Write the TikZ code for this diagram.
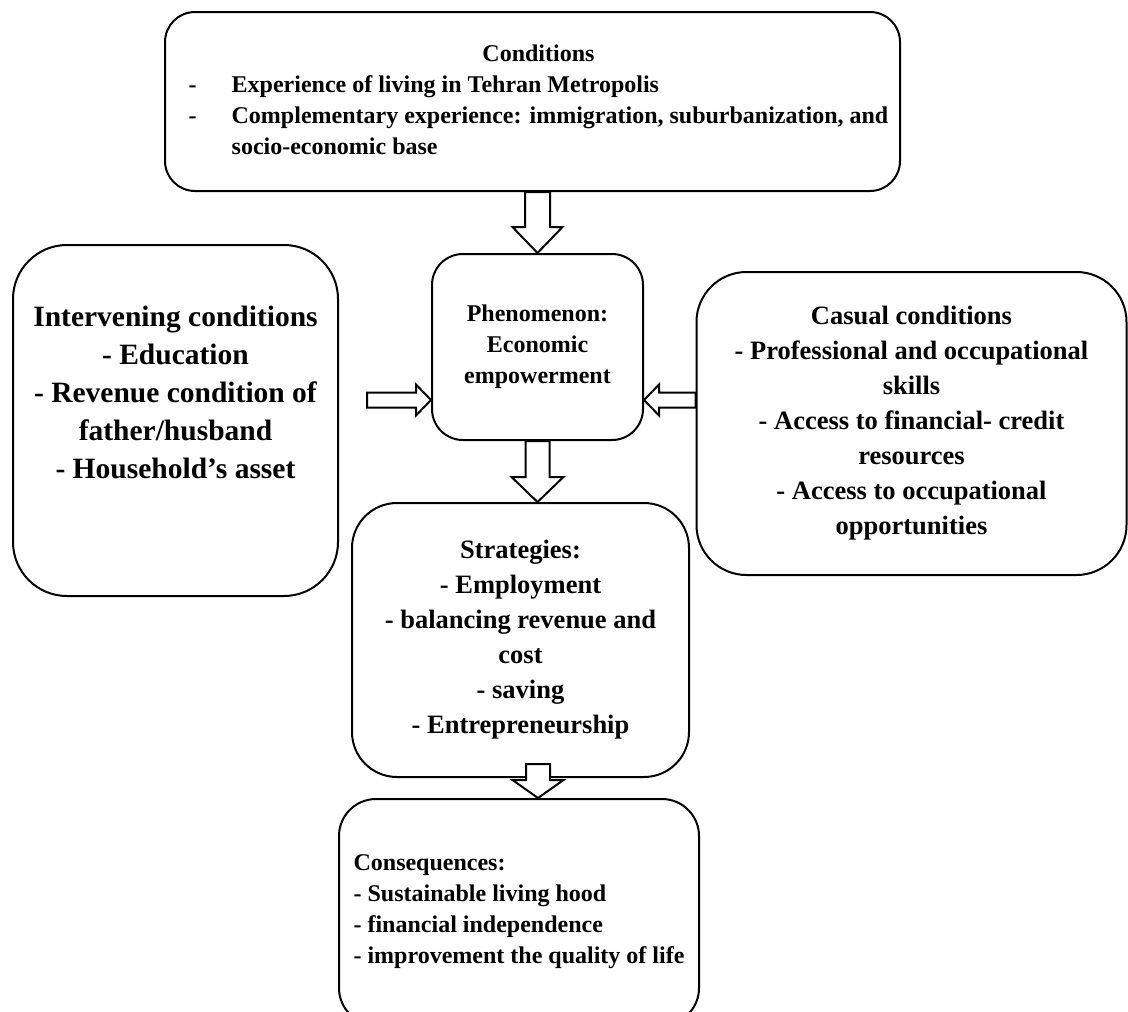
\documentclass[tikz,border=0pt]{standalone}
\usepackage{fontspec}
\setmainfont{Liberation Serif}
\usetikzlibrary{calc}

\newcommand{\fsmall}{\fontsize{24}{31}\selectfont\bfseries}
\newcommand{\fmid}{\fontsize{26.5}{35}\selectfont\bfseries}
\newcommand{\fbig}{\fontsize{29.5}{38}\selectfont\bfseries}

\tikzset{
  box/.style={draw, line width=2pt, rounded corners=#1, align=center, inner sep=0pt},
  hollow/.style={draw, fill=white, line width=2pt, line join=miter},
  % block arrow: {shaft half width}{head half width}{head length}
  blockarrow/.style n args={3}{hollow, to path={
    let \p1=(\tikztostart), \p2=(\tikztotarget),
        \n1={veclen(\x2-\x1,\y2-\y1)-#3}, \n2={atan2(\y2-\y1,\x2-\x1)} in
    ($(\p1)+(\n2+90:#1)$) -- ($(\p1)+(\n2:\n1)+(\n2+90:#1)$)
    -- ($(\p1)+(\n2:\n1)+(\n2+90:#2)$) -- (\p2)
    -- ($(\p1)+(\n2:\n1)+(\n2-90:#2)$) -- ($(\p1)+(\n2:\n1)+(\n2-90:#1)$)
    -- ($(\p1)+(\n2-90:#1)$) -- cycle}}
}

\begin{document}
\begin{tikzpicture}[x=1pt, y=-1pt]
\path[use as bounding box, clip] (0,0) rectangle (1128,1012);

\node[box=30pt, minimum width=735pt, minimum height=179pt, font=\fsmall](cond) at (532.5, 101.5) {\hspace*{12pt}\begin{tabular}{@{}p{43pt}@{}l@{}}
\multicolumn{2}{c}{Conditions}\\
- & Experience of living in Tehran Metropolis\\
- & Complementary experience: immigration, suburbanization, and\\
  & socio-economic base
\end{tabular}};

\node[box=31pt, minimum width=211pt, minimum height=186pt, font=\fsmall](phen) at (537.5, 347) {Phenomenon:\\Economic\\empowerment};

\node[box=54pt, minimum width=325pt, minimum height=351pt](interv) at (175.5, 420.5) {};
\node[font=\fbig, align=center, inner sep=0pt](intervtext) at (175.5, 392) {Intervening conditions\\- Education\\- Revenue condition of\\father/husband\\- Household’s asset};

\node[box=50pt, minimum width=430pt, minimum height=303pt, font=\fmid](casual) at (911.5, 423.5) {Casual conditions\\- Professional and occupational\\skills\\- Access to financial- credit\\resources\\- Access to occupational\\opportunities};

\node[box=45pt, minimum width=337pt, minimum height=274pt, font=\fmid](strat) at (520.5, 640) {Strategies:\\- Employment\\- balancing revenue and\\cost\\- saving\\- Entrepreneurship};

\node[box=37pt, minimum width=360pt, minimum height=226pt, font=\fsmall, align=left](cons) at (519, 912) {Consequences:\\- Sustainable living hood\\- financial independence\\- improvement the quality of life};

\coordinate (lefttail) at (367, 400);
\coordinate (stratout) at (538, 764);

\draw[blockarrow={12.5pt}{25pt}{26pt}] (cond.south -| phen.north) to (phen.north);
\draw[blockarrow={7.5pt}{15.5pt}{15pt}] (lefttail) to (lefttail -| phen.west);
\draw[blockarrow={7.5pt}{15.5pt}{15pt}] (casual.west |- lefttail) to (phen.east |- lefttail);
\draw[blockarrow={12pt}{26pt}{25pt}] (phen.south) to (phen.south |- strat.north);
\draw[blockarrow={12pt}{25.5pt}{18pt}] (stratout) to (stratout |- cons.north);

\end{tikzpicture}
\end{document}
